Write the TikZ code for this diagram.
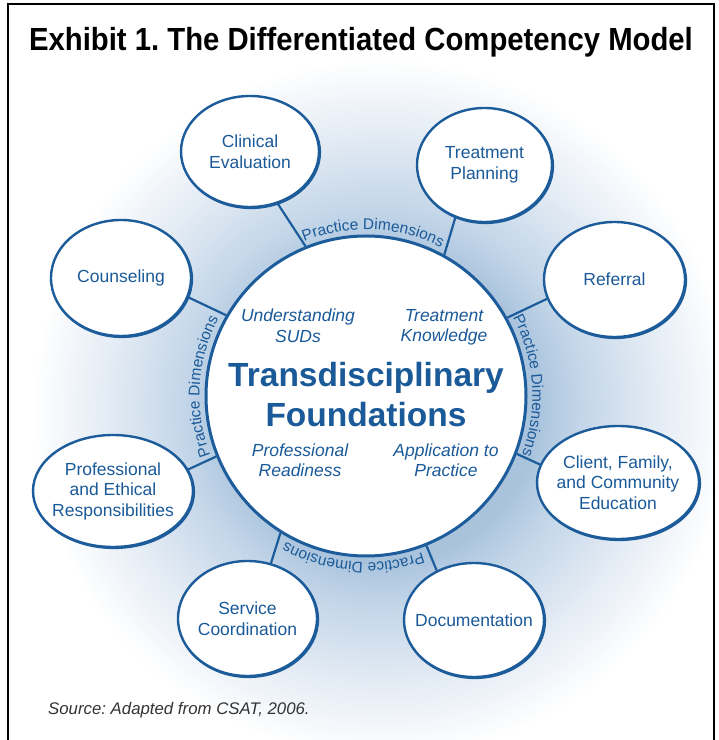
\documentclass[tikz,border=0pt]{standalone}
\usepackage{graphicx}
\usepackage{fontspec}
\setmainfont{Liberation Sans}
\usetikzlibrary{shapes.geometric,decorations.text}
\definecolor{cblue}{HTML}{1D5C9B}
\definecolor{tblue}{HTML}{1B5A98}
\definecolor{gA}{HTML}{A9C3DD}
\definecolor{gB}{HTML}{C2D5E8}
\definecolor{gC}{HTML}{E3EBF4}
\pgfdeclareradialshading{glow}{\pgfpoint{0bp}{0bp}}{color(0bp)=(gA); color(11bp)=(gA); color(14bp)=(gB); color(19.5bp)=(gC); color(25bp)=(white); color(50bp)=(white)}
\newcommand\pdfont{\fontsize{15.5}{18}\selectfont}
\frenchspacing
\begin{document}
\begin{tikzpicture}[x=1pt,y=1pt,
  comp/.style={ellipse, draw=cblue, line width=2.4pt, fill=white, text=tblue,
    align=center, inner sep=-20pt, font=\fontsize{17.5}{20.5}\selectfont,
    preaction={draw=cblue, line width=2.4pt, transform canvas={shift={(0.9pt,-0.9pt)}}}},
  conn/.style={draw=cblue, line width=2.2pt},
  sub/.style={text=tblue, align=center, inner sep=0pt, font=\fontsize{17.5}{20.5}\selectfont\itshape},
  pdim/.style={decorate, decoration={text along path, text align=center,
    text={|\pdfont\color{tblue}|Practice Dimensions}}}
]
\useasboundingbox (0,0) rectangle (719,740);
% glow
\shade[shading=glow] (382,332) circle (350);
% frame
\draw[line width=2pt, black] (8,-2) -- (8,736) -- (714,736) -- (714,-2);
% title
\node[anchor=base, inner sep=0pt, font=\fontsize{32}{38}\selectfont\bfseries] (title) at (361,689)
  {\scalebox{0.915}[1]{Exhibit 1. The Differentiated Competency Model}};
% core
\node[circle, draw=cblue, line width=3pt, fill=white, minimum size=320pt, inner sep=0pt] (core) at (366,344) {};
% components
\node[comp, minimum width=138pt, minimum height=111pt] (clin) at (250,588.5) {Clinical\\Evaluation};
\node[comp, minimum width=135pt, minimum height=114pt] (tp) at (484.5,575) {Treatment\\Planning};
\node[comp, minimum width=141pt, minimum height=115pt] (ref) at (614.5,460.5) {Referral};
\node[comp, minimum width=162pt, minimum height=113pt] (cli) at (618,257.5) {Client, Family,\\and Community\\Education};
\node[comp, minimum width=140pt, minimum height=114pt] (doc) at (474,120) {Documentation};
\node[comp, minimum width=139pt, minimum height=115pt] (svc) at (247.5,121.5) {Service\\Coordination};
\node[comp, minimum width=160pt, minimum height=112pt] (prof) at (113,249) {Professional\\and Ethical\\Responsibilities};
\node[comp, minimum width=140pt, minimum height=116pt] (cou) at (121,462) {Counseling};
% connectors
\draw[conn] (clin.-62) -- (core.112.7);
\draw[conn] (tp.-119) -- (core.61.3);
\draw[conn] (ref.-164.5) -- (core.29.1);
\draw[conn] (cli.167.4) -- (core.-21.5);
\draw[conn] (doc.127.9) -- (core.-68.1);
\draw[conn] (svc.67.9) -- (core.238);
\draw[conn] (prof.16.6) -- (core.202.4);
\draw[conn] (cou.-16.6) -- (core.150.8);
% practice dimensions
\path[pdim] (core.center) ++(127.5:166.5) arc[start angle=127.5, end angle=47.5, radius=166.5];
\path[pdim] (core.center) ++(43.8:166.5) arc[start angle=43.8, end angle=-36.2, radius=166.5];
\path[pdim] (core.center) ++(-54.5:166.5) arc[start angle=-54.5, end angle=-134.5, radius=166.5];
\path[pdim] (core.center) ++(216.6:166.5) arc[start angle=216.6, end angle=136.6, radius=166.5];
% core text
\node[text=tblue, align=center, inner sep=0pt, font=\fontsize{33.5}{40}\selectfont\bfseries] (tf) at (366,345.5) {Transdisciplinary\\Foundations};
\node[sub] (us) at (298,414.3) {Understanding\\SUDs};
\node[sub] (tk) at (444,412.5) {Treatment\\Knowledge};
\node[sub] (pr) at (300,279.7) {Professional\\Readiness};
\node[sub] (ap) at (446,279.7) {Application to\\Practice};
% source
\node[anchor=base west, inner sep=0pt, text=black!80, font=\fontsize{16.8}{20}\selectfont\itshape] (src) at (48,26) {Source: Adapted from CSAT, 2006.};
\end{tikzpicture}
\end{document}
